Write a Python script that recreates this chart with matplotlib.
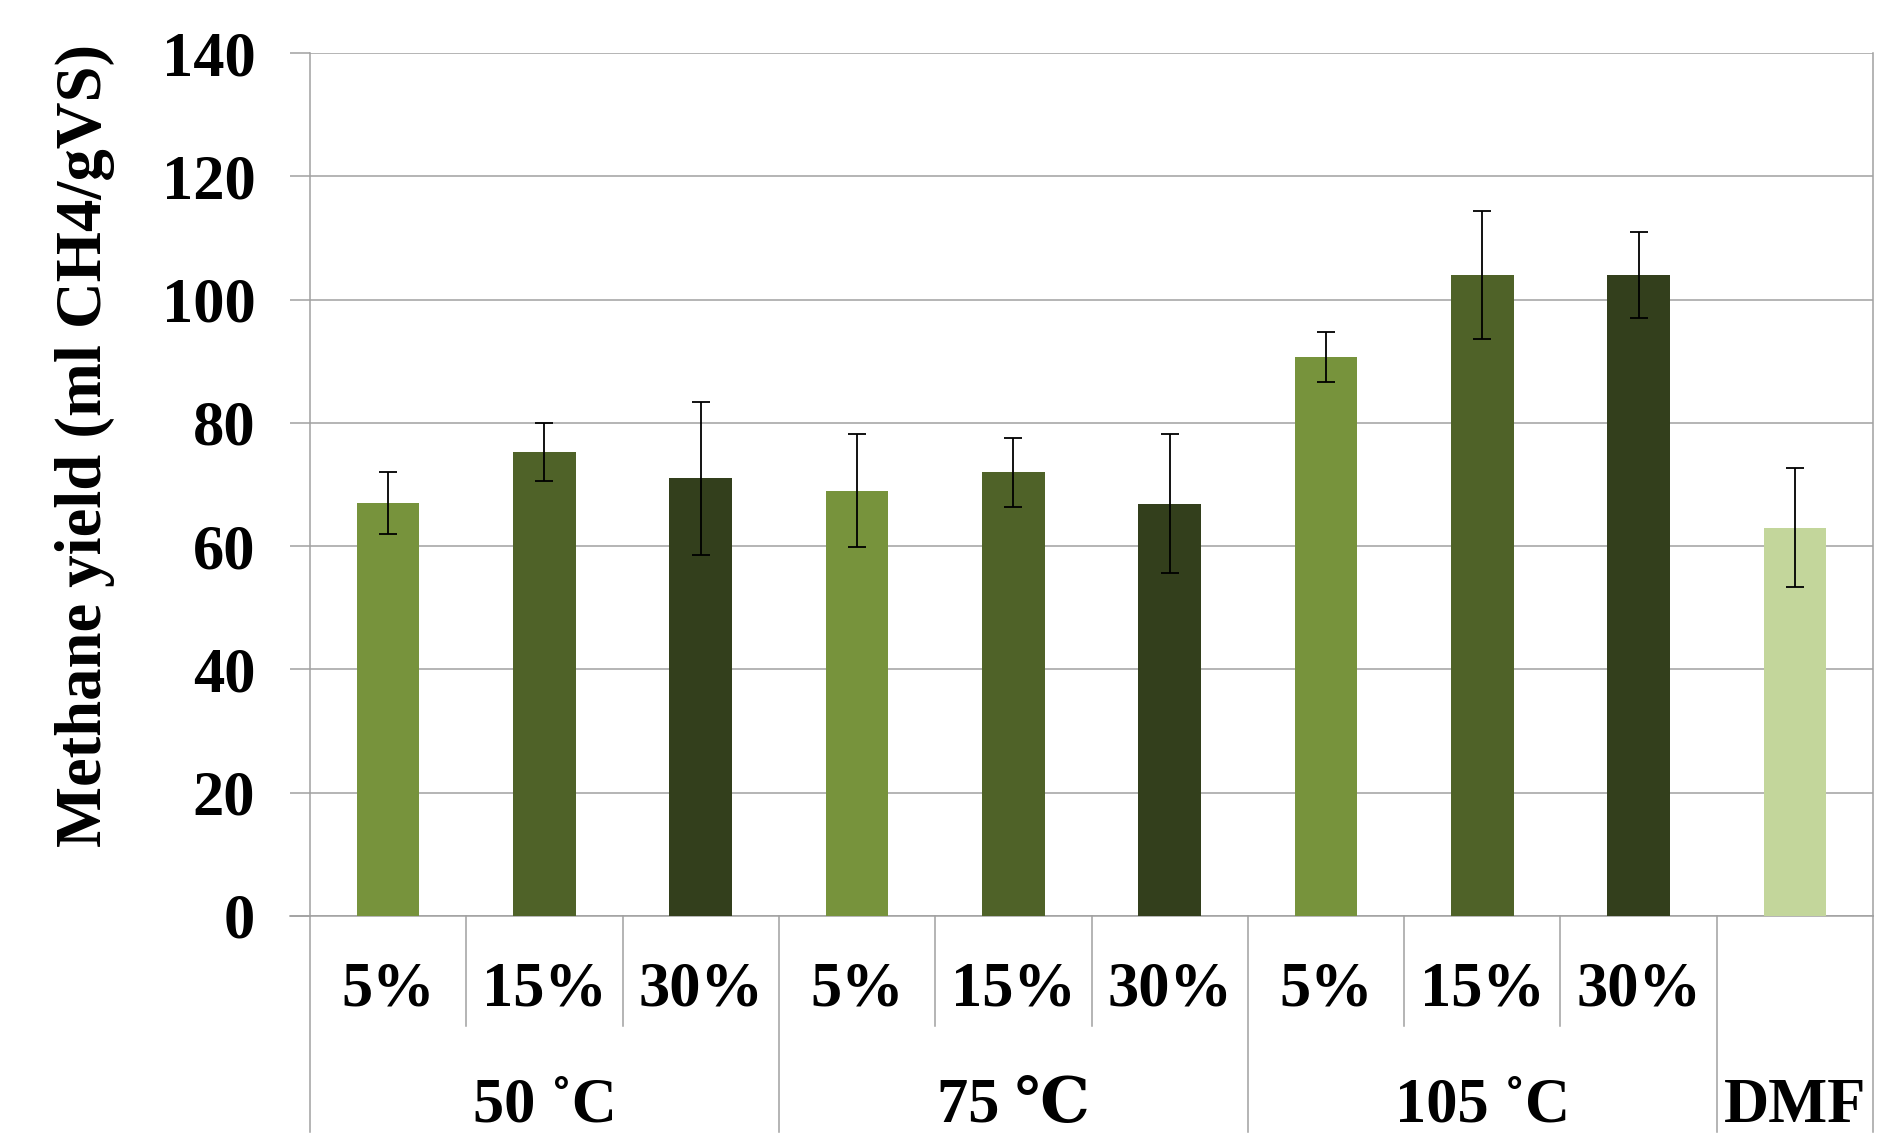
import matplotlib.pyplot as plt
import matplotlib.transforms as mtransforms

# data
cats = ['5%', '15%', '30%', '5%', '15%', '30%', '5%', '15%', '30%', '']
yields = [67, 75.3, 71, 69, 72, 66.9, 90.7, 104, 104, 63]
errs = [5, 4.7, 12.4, 9.2, 5.6, 11.3, 4, 10.4, 7, 9.6]
groups = ['50 \u02daC', '75 \u2103', '105 \u02daC', 'DMF']
group_sizes = [3, 3, 3, 1]
colors = ['#77933C', '#4F6228', '#333F1C', '#77933C', '#4F6228', '#333F1C',
          '#77933C', '#4F6228', '#333F1C', '#C3D69B']

plt.rcParams['font.family'] = ['Liberation Serif', 'DejaVu Serif', 'Noto Sans CJK SC']
plt.rcParams['font.weight'] = 'bold'
fs = 45
grid_c = '#A0A0A0'

W, H = 1889, 1142
fig = plt.figure(figsize=(W / 100, H / 100), dpi=100)
L, R, T, B = 310, 1873, 53, 916
ax = fig.add_axes([L / W, 1 - B / H, (R - L) / W, (B - T) / H])

x = list(range(len(yields)))
ax.bar(x, yields, width=0.4, color=colors, zorder=3)
ax.errorbar(x, yields, yerr=errs, fmt='none', ecolor='black', elinewidth=1.3,
            capsize=6.5, capthick=1.3, zorder=4)

ax.set_xlim(-0.5, len(yields) - 0.5)
ax.set_ylim(0, 140)
ax.set_yticks(range(0, 141, 20))
ax.yaxis.grid(True, color=grid_c, linewidth=1.1, zorder=0)
ax.set_xticks([])
ax.spines['top'].set_visible(False)
for s in ['left', 'right', 'bottom']:
    ax.spines[s].set_color(grid_c)
    ax.spines[s].set_linewidth(1.1)
ax.tick_params(axis='y', length=14.4, width=1.1, color=grid_c, pad=25,
               labelsize=fs)
for lab in ax.get_yticklabels():
    lab.set_fontweight('bold')

ax.set_ylabel('Methane yield (ml CH4/gVS)', fontsize=46.5, fontweight='bold')
ax.yaxis.set_label_coords(-0.125, 0.545)

# bottom axis extends left like a tick
ax.plot([-20 / (R - L), 0], [0, 0], transform=ax.transAxes, color=grid_c,
        lw=1.1, clip_on=False)

trans = mtransforms.blended_transform_factory(ax.transData, ax.transAxes)
y_cat = -(1026 - B) / (B - T)
y_grp = -(1132 - B) / (B - T)
y_cat_txt = -(991 - B) / (B - T)
y_grp_txt = -(1107 - B) / (B - T)

for i, c in enumerate(cats):
    if c:
        ax.text(i, y_cat_txt, c, transform=trans, ha='center', va='center',
                fontsize=fs, fontweight='bold')

start = 0
bounds = [-0.5]
for g, n in zip(groups, group_sizes):
    mid = start + (n - 1) / 2
    ax.text(mid, y_grp_txt, g, transform=trans, ha='center', va='center',
            fontsize=fs, fontweight='bold')
    for k in range(1, n):
        xb = start + k - 0.5
        ax.plot([xb, xb], [0, y_cat], transform=trans, color=grid_c, lw=1.1,
                clip_on=False)
    start += n
    bounds.append(start - 0.5)
for xb in bounds:
    ax.plot([xb, xb], [0, y_grp], transform=trans, color=grid_c, lw=1.1,
            clip_on=False)

fig.savefig('out.png', dpi=100)
